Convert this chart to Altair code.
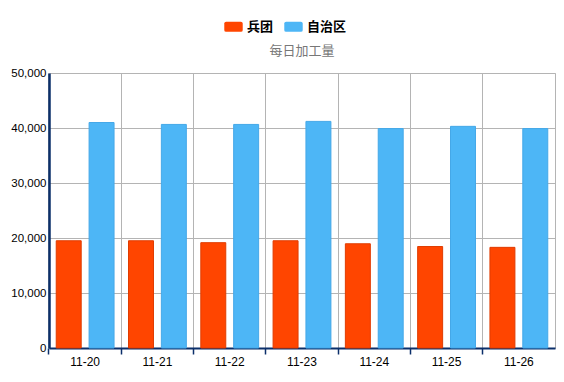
import altair as alt
import pandas as pd

dates = ["11-20", "11-21", "11-22", "11-23", "11-24", "11-25", "11-26"]
bingtuan = [19500, 19500, 19150, 19500, 18950, 18450, 18300]
zizhiqu = [41000, 40650, 40650, 41200, 39900, 40300, 39900]
series = ["兵团", "自治区"]
colors = ["#FF4500", "#4DB6F6"]
strokes = ["#E03C00", "#45A8E8"]

rows = []
for d, a, b in zip(dates, bingtuan, zizhiqu):
    rows.append({"date": d, "series": series[0], "value": a})
    rows.append({"date": d, "series": series[1], "value": b})
df = pd.DataFrame(rows)

font = "Liberation Sans, Arial, Noto Sans CJK SC"
rr = ("M-0.8,-0.55 L0.8,-0.55 Q1,-0.55 1,-0.35 L1,0.35 Q1,0.55 0.8,0.55 "
      "L-0.8,0.55 Q-1,0.55 -1,0.35 L-1,-0.35 Q-1,-0.55 -0.8,-0.55 Z")

chart = alt.Chart(df).mark_bar(strokeWidth=1).encode(
    x=alt.X("date:N", sort=dates, title=None,
            scale=alt.Scale(paddingInner=0, paddingOuter=0),
            axis=alt.Axis(bandPosition=0, labelAngle=0,
                          grid=True, gridColor="#b4b4b4", gridWidth=1,
                          domainColor="#0b2f6a", domainWidth=2,
                          tickColor="#0b2f6a", tickSize=6, tickWidth=1.5,
                          labelFont=font, labelFontSize=12, labelColor="#000",
                          labelPadding=2)),
    xOffset=alt.XOffset("series:N", sort=series,
                        scale=alt.Scale(paddingInner=0.24, paddingOuter=0.22)),
    y=alt.Y("value:Q", title=None,
            scale=alt.Scale(domain=[0, 50000], nice=False),
            axis=alt.Axis(values=[0, 10000, 20000, 30000, 40000, 50000],
                          format=",d", grid=True, gridColor="#b4b4b4",
                          domainColor="#0b2f6a", domainWidth=2.5,
                          ticks=False, labelPadding=3,
                          labelFont=font, labelFontSize=11.5, labelColor="#000")),
    color=alt.Color("series:N", sort=series,
                    scale=alt.Scale(domain=series, range=colors),
                    legend=alt.Legend(orient="none", legendX=175, legendY=-56,
                                      direction="horizontal", title=None,
                                      symbolType=rr, symbolSize=340,
                                      symbolStrokeWidth=0, symbolOpacity=1,
                                      labelFont="Noto Sans CJK SC",
                                      labelFontSize=13, labelFontWeight="bold",
                                      labelColor="#000", columnPadding=10,
                                      labelOffset=4)),
    stroke=alt.Stroke("series:N", sort=series,
                      scale=alt.Scale(domain=series, range=strokes),
                      legend=None),
).properties(
    width=506, height=275,
    title=alt.TitleParams("每日加工量", font="Noto Sans CJK SC", fontSize=13,
                          fontWeight="normal", color="#777", anchor="middle",
                          offset=13, dy=54),
    padding={"left": 41, "top": 65, "right": 1, "bottom": 26},
    autosize=alt.AutoSizeParams(type="none"),
).configure_view(stroke="#b4b4b4", strokeWidth=1)

chart.save("out.html", embed_options={"renderer": "svg", "actions": False})
